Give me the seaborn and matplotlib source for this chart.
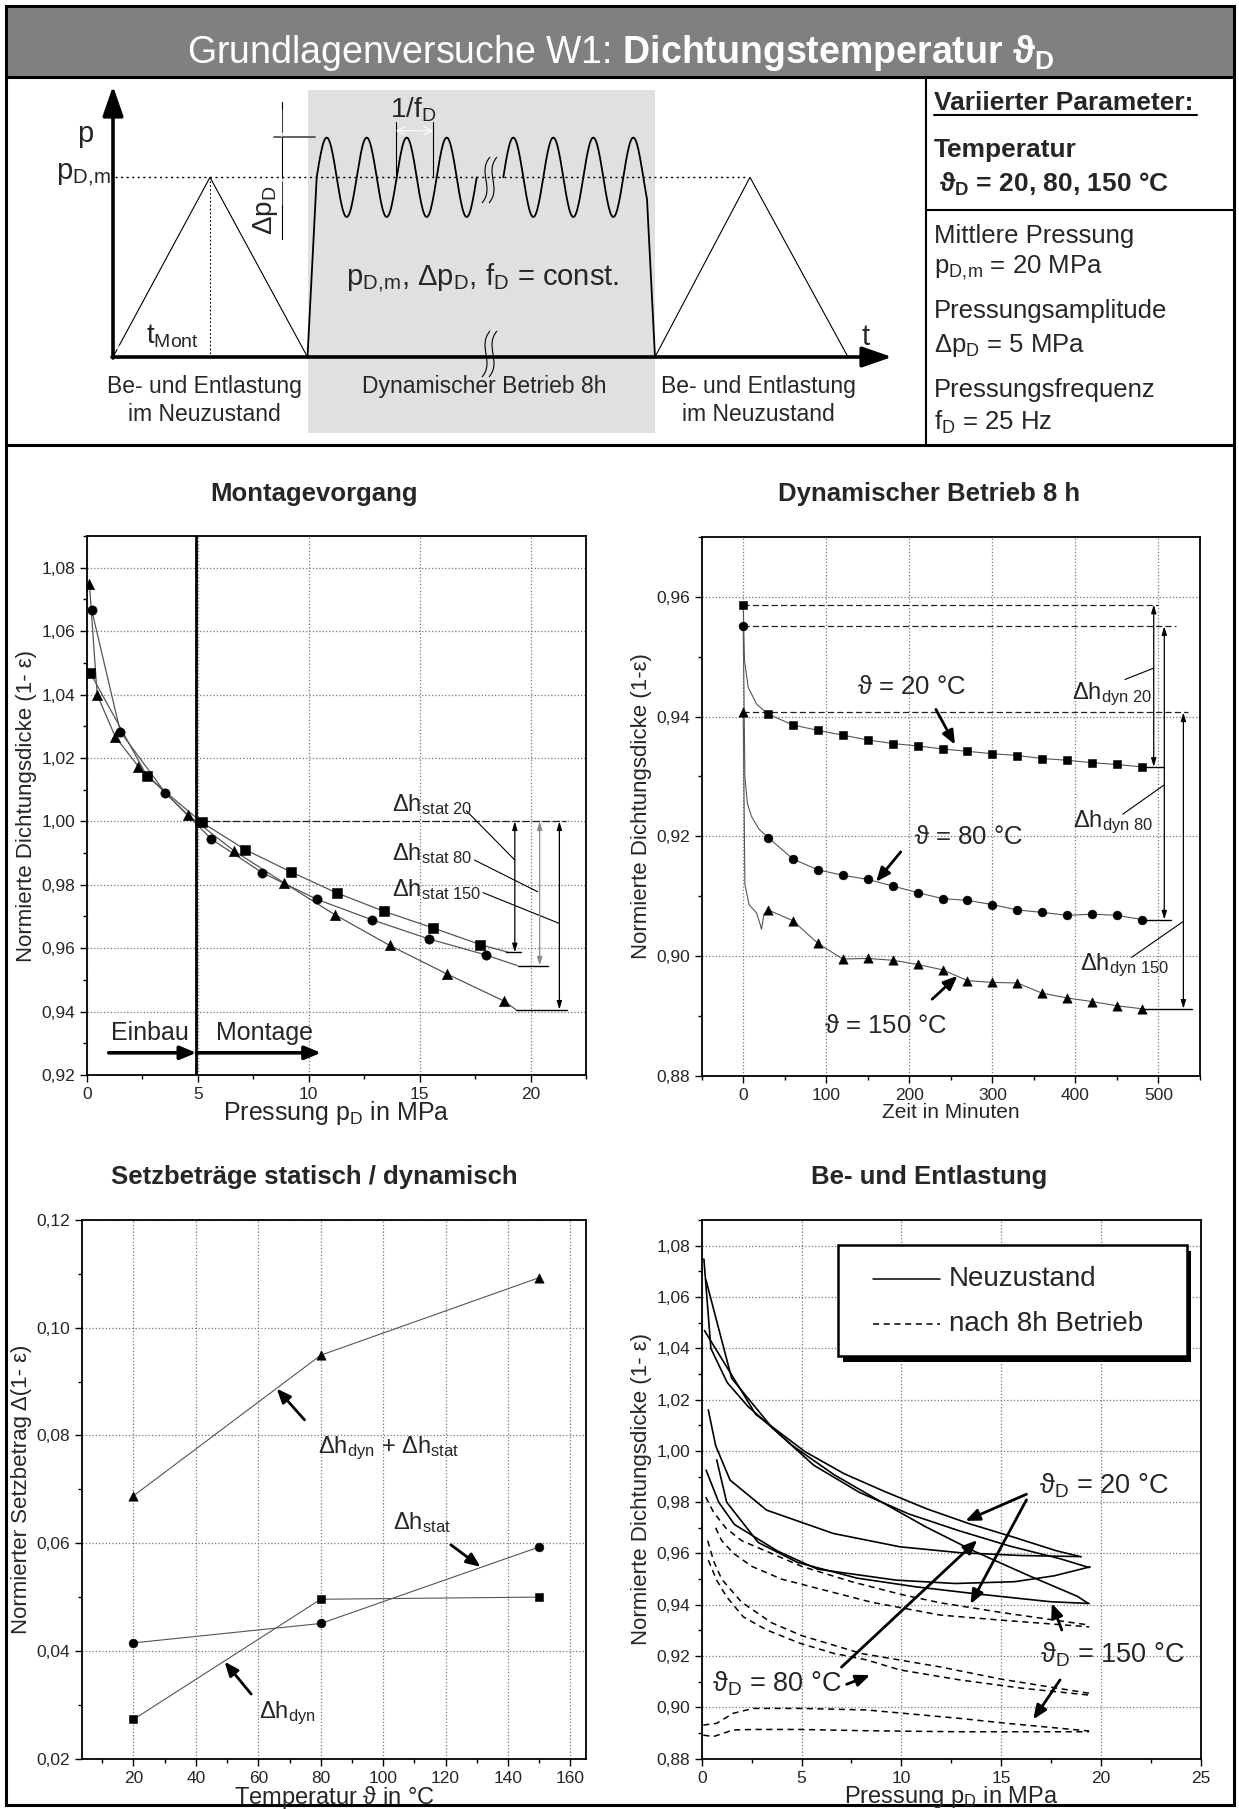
import matplotlib
matplotlib.use("Agg")
import matplotlib.pyplot as plt
import numpy as np
import seaborn as sns
from matplotlib.patches import Rectangle, PathPatch
from matplotlib.path import Path
from matplotlib.ticker import MultipleLocator, FuncFormatter

sns.set_style("white")
plt.rcParams["font.family"] = ["Liberation Sans", "DejaVu Sans"]
plt.rcParams["mathtext.fontset"] = "custom"
plt.rcParams["mathtext.rm"] = "Liberation Sans"
plt.rcParams["mathtext.it"] = "Liberation Sans:italic"
plt.rcParams["mathtext.bf"] = "Liberation Sans:bold"
plt.rcParams["mathtext.default"] = "regular"

# ------------------------------------------------------------------
# Daten
# ------------------------------------------------------------------
# Montagevorgang: Pressung in MPa / normierte Dichtungsdicke
MONT20_P = [0.14, 2.71, 5.17, 7.13, 9.18, 11.27, 13.40, 15.60, 17.74]
MONT20_V = [1.0469, 1.0142, 0.9997, 0.9911, 0.9841, 0.9774, 0.9716, 0.9664, 0.9611]
MONT80_P = [0.21, 1.50, 3.53, 5.61, 7.90, 10.37, 12.87, 15.42, 17.97]
MONT80_V = [1.0667, 1.0283, 1.0090, 0.9944, 0.9838, 0.9754, 0.9689, 0.9629, 0.9579]
MONT150_P = [0.11, 0.46, 1.28, 2.32, 4.55, 6.63, 8.88, 11.19, 13.64, 16.22, 18.81]
MONT150_V = [1.0748, 1.0399, 1.0266, 1.0173, 1.0020, 0.9907, 0.9806, 0.9705, 0.9609, 0.9519, 0.9433]
# Kurvenende (ohne Symbol)
MONT_END_P = [19.00, 19.40, 19.34]
MONT_END_V = [0.9587, 0.9545, 0.9406]

# Dynamischer Betrieb: Zeit in Minuten
DYN_T = [0, 30, 60, 90, 120, 150, 180, 210, 240, 270, 300, 330, 360, 390, 420, 450, 480]
DYN20 = [0.9587, 0.9404, 0.9386, 0.9377, 0.9369, 0.9361, 0.9355, 0.9351, 0.9346,
         0.9342, 0.9338, 0.9335, 0.9330, 0.9327, 0.9323, 0.9320, 0.9316]
DYN80 = [0.9551, 0.9198, 0.9162, 0.9144, 0.9135, 0.9128, 0.9117, 0.9106, 0.9096,
         0.9093, 0.9086, 0.9077, 0.9073, 0.9068, 0.9070, 0.9068, 0.9061]
DYN150 = [0.9407, 0.9077, 0.9059, 0.9021, 0.8995, 0.8996, 0.8993, 0.8986, 0.8977,
          0.8959, 0.8956, 0.8955, 0.8938, 0.8930, 0.8924, 0.8917, 0.8912]
# Anfangsabfall (erste 30 min)
DYN20_START_T = [0, 1.5, 6, 16, 30]
DYN20_START_V = [0.9587, 0.9494, 0.9449, 0.9421, 0.9404]
DYN80_START_T = [0, 2, 5, 10, 19, 30]
DYN80_START_V = [0.9551, 0.9300, 0.9255, 0.9233, 0.9212, 0.9198]
DYN150_START_T = [0, 2, 7, 16, 20, 22, 25, 30]
DYN150_START_V = [0.9407, 0.9120, 0.9086, 0.9072, 0.9055, 0.9045, 0.9070, 0.9077]

# Setzbeträge
TEMP = [20, 80, 150]
SET_SUM = [0.0688, 0.0949, 0.1093]
SET_STAT = [0.0415, 0.0451, 0.0593]
SET_DYN = [0.0273, 0.0496, 0.0500]

# Be- und Entlastung: Entlastung im Neuzustand
UNL20_P = [18.87, 16.0, 12.94, 9.93, 6.59, 3.25, 1.42, 0.70, 0.33]
UNL20_V = [0.9588, 0.9592, 0.9603, 0.9626, 0.9678, 0.9769, 0.9886, 1.0020, 1.0160]
UNL80_P = [19.45, 17.65, 15.67, 12.70, 9.74, 5.79, 3.81, 1.64, 0.85, 0.22]
UNL80_V = [0.9548, 0.9513, 0.9490, 0.9483, 0.9496, 0.9539, 0.9609, 0.9713, 0.9800, 0.9925]
UNL150_P = [19.40, 17.45, 13.70, 10.73, 7.77, 4.80, 2.83, 1.25, 0.75]
UNL150_V = [0.9405, 0.9412, 0.9443, 0.9470, 0.9504, 0.9565, 0.9643, 0.9800, 0.9965]
# nach 8h Betrieb (Be- und Entlastung)
N20A_P = [0.2, 0.6, 1.2, 2.0, 3.5, 5.0, 7.5, 10.0, 11.93, 15.0, 19.4]
N20A_V = [0.982, 0.976, 0.970, 0.965, 0.960, 0.955, 0.949, 0.944, 0.9408, 0.937, 0.9321]
N20B_P = [0.7, 1.0, 1.6, 2.5, 4.0, 6.0, 8.5, 11.93, 15.0, 19.4]
N20B_V = [0.970, 0.965, 0.960, 0.955, 0.950, 0.946, 0.941, 0.936, 0.934, 0.9314]
N80A_P = [0.3, 0.6, 1.0, 2.0, 3.5, 5.0, 8.0, 11.93, 15.0, 19.4]
N80A_V = [0.965, 0.957, 0.950, 0.941, 0.933, 0.928, 0.921, 0.9158, 0.911, 0.9055]
N80B_P = [0.33, 0.75, 1.25, 2.08, 3.25, 4.92, 6.59, 8.26, 9.93, 12.94, 16.0, 19.4]
N80B_V = [0.9574, 0.9496, 0.9431, 0.9353, 0.9302, 0.925, 0.9211, 0.9185, 0.9146, 0.9107, 0.9075, 0.9048]
N150A_P = [0.08, 0.75, 1.58, 2.58, 4.92, 8.26, 12.93, 15.27, 19.4]
N150A_V = [0.8931, 0.8938, 0.8977, 0.8996, 0.8996, 0.8990, 0.8957, 0.8938, 0.8908]
N150B_P = [0.08, 0.58, 1.58, 2.58, 4.92, 8.26, 12.93, 19.4]
N150B_V = [0.8892, 0.8886, 0.8912, 0.8914, 0.8914, 0.8909, 0.8905, 0.8905]

W, H = 1239, 1809
LINE = "#555555"
PDM = r"$p_{D,\!m}$"


def comma(fmt):
    return FuncFormatter(lambda v, _: format(v, fmt).replace(".", ","))


def style_axes(ax, xlim, ylim, xmaj, xmin, ymaj, ymin, xfmt=".0f"):
    ax.set_xlim(*xlim)
    ax.set_ylim(*ylim)
    ax.xaxis.set_major_locator(MultipleLocator(xmaj))
    ax.xaxis.set_minor_locator(MultipleLocator(xmin))
    ax.yaxis.set_major_locator(MultipleLocator(ymaj))
    ax.yaxis.set_minor_locator(MultipleLocator(ymin))
    ax.xaxis.set_major_formatter(comma(xfmt))
    ax.yaxis.set_major_formatter(comma(".2f"))
    ax.tick_params(which="both", direction="out", bottom=True, left=True,
                   top=False, right=False, labelsize=12.5, width=1.0, color="black")
    ax.tick_params(which="major", length=5)
    ax.tick_params(which="minor", length=3)
    for s in ax.spines.values():
        s.set_linewidth(1.3)
        s.set_color("black")
    ax.grid(True, which="major", linestyle=":", color="#777777", linewidth=0.9)
    ax.set_axisbelow(True)


def curve(ax, xs, ys, color=LINE, lw=0.9, ls="-"):
    sns.lineplot(x=xs, y=ys, ax=ax, color=color, lw=lw, linestyle=ls,
                 estimator=None, sort=False, legend=False)


def marks(ax, xs, ys, marker, size):
    sns.scatterplot(x=xs, y=ys, ax=ax, marker=marker, s=size, color="black",
                    edgecolor="black", linewidth=0.4, legend=False, zorder=5)


def arrow(ax, tail, head, lw=2.0, ms=14):
    ax.annotate("", xy=head, xytext=tail,
                arrowprops=dict(arrowstyle="-|>,head_length=0.6,head_width=0.25",
                                lw=lw, color="black", mutation_scale=ms,
                                shrinkA=0, shrinkB=0))


def dim_arrow(ax, x, y0, y1, color="black"):
    ax.annotate("", xy=(x, y1), xytext=(x, y0),
                arrowprops=dict(arrowstyle="<|-|>,head_length=0.5,head_width=0.15",
                                lw=0.9, color=color, mutation_scale=10,
                                shrinkA=0, shrinkB=0))


fig = plt.figure(figsize=(W / 100, H / 100), dpi=100)

# ------------------------------------------------------------------
# Rahmen + Prinzipskizze (Pixelkoordinaten)
# ------------------------------------------------------------------
fr = fig.add_axes([0, 0, 1, 1])
fr.set_xlim(0, W)
fr.set_ylim(H, 0)
fr.axis("off")

fr.add_patch(Rectangle((6, 6), 1228, 71, facecolor="#808080", edgecolor="none"))
fr.add_patch(Rectangle((6, 6), 1228, 1799, fill=False, lw=2.2, edgecolor="black", zorder=10))
fr.plot([6, 1234], [77, 77], color="black", lw=2.2)
fr.plot([6, 1234], [445, 445], color="black", lw=2.2)
fr.plot([925.5, 925.5], [77, 445], color="black", lw=1.5)
fr.plot([925.5, 1234], [210, 210], color="black", lw=1.5)

fr.text(621, 63, r"Grundlagenversuche W1: $\mathbf{Dichtungstemperatur}$ $\mathbf{\vartheta_D}$",
        color="white", fontsize=27, ha="center", va="baseline")

# rechte Spalte
RX = 934
fr.text(RX, 110, "Variierter Parameter:", fontsize=19, fontweight="bold", va="baseline")
fr.plot([RX, RX + 263], [115, 115], color="black", lw=1.5)
fr.text(RX, 157, "Temperatur", fontsize=19, fontweight="bold", va="baseline")
fr.text(RX + 5, 192, r"$\mathbf{\vartheta}_{\mathbf{D}}$ = 20, 80, 150 °C", fontsize=19,
        fontweight="bold", va="baseline")
fr.text(RX, 243, "Mittlere Pressung", fontsize=18.5, va="baseline")
fr.text(RX, 273, PDM + " = 20 MPa", fontsize=18.5, va="baseline")
fr.text(RX, 318, "Pressungsamplitude", fontsize=18.5, va="baseline")
fr.text(RX, 352, r"$\Delta p_D$ = 5 MPa", fontsize=18.5, va="baseline")
fr.text(RX, 397, "Pressungsfrequenz", fontsize=18.5, va="baseline")
fr.text(RX, 430, r"$f_D$ = 25 Hz", fontsize=18.5, va="baseline")

# Skizze
X0, Y0 = 113, 357          # Ursprung
PM = 177.3                 # Niveau p_D,m
AMP = 39.7                 # halbe Schwingweite
PER = 40.0                 # Periode
fr.add_patch(Rectangle((307.5, 90), 347.5, 343, facecolor="#e0e0e0", edgecolor="none", zorder=0))
fr.annotate("", xy=(X0, 86), xytext=(X0, Y0 + 1),
            arrowprops=dict(arrowstyle="-|>,head_length=1.3,head_width=0.45", lw=2.6,
                            color="black", mutation_scale=14, shrinkA=0, shrinkB=0))
fr.annotate("", xy=(892, Y0), xytext=(X0 - 1, Y0),
            arrowprops=dict(arrowstyle="-|>,head_length=1.3,head_width=0.45", lw=2.6,
                            color="black", mutation_scale=14, shrinkA=0, shrinkB=0))
fr.plot([X0, 210, 307.5], [Y0, PM, Y0], color="black", lw=0.8)
fr.plot([655, 750, 848], [Y0, PM, Y0], color="black", lw=0.8)
fr.plot([210, 210], [PM, Y0], color="black", lw=0.8, ls=(0, (1.5, 2)))
fr.plot([115, 748], [PM, PM], color="black", lw=1.0, ls=(0, (1.5, 2.5)))

wx1 = np.linspace(316.7, 476.7, 200)
wx2 = np.linspace(503.3, 647.0, 200)
fr.plot(np.r_[307.5, wx1], np.r_[Y0, PM - AMP * np.sin(2 * np.pi * (wx1 - 316.7) / PER)],
        color="black", lw=1.3)
fr.plot(np.r_[wx2, 655], np.r_[PM - AMP * np.sin(2 * np.pi * (wx2 - 503.3) / PER), Y0],
        color="black", lw=1.3)


def break_mark(cx, cy, h):
    for dx in (0, 7):
        verts = [(cx + dx + 4, cy - h / 2), (cx + dx - 9, cy - h / 6),
                 (cx + dx + 9, cy + h / 6), (cx + dx - 4, cy + h / 2)]
        fr.add_patch(PathPatch(Path(verts, [Path.MOVETO, Path.CURVE4, Path.CURVE4, Path.CURVE4]),
                               fill=False, lw=0.8, edgecolor="black"))


break_mark(486, 180, 46)
break_mark(486, 354, 46)

# Delta p_D
fr.plot([281.7, 281.7], [101.7, 239.3], color="black", lw=0.8)
fr.plot([274, 315], [137.3, 137.3], color="#555555", lw=1.3)
fr.annotate("", xy=(281.7, 137.3), xytext=(281.7, 110),
            arrowprops=dict(arrowstyle="->,head_length=0.5,head_width=0.25", lw=0.8,
                            mutation_scale=12, shrinkA=0, shrinkB=0))
fr.annotate("", xy=(281.7, PM), xytext=(281.7, 205),
            arrowprops=dict(arrowstyle="->,head_length=0.5,head_width=0.25", lw=0.8,
                            mutation_scale=12, shrinkA=0, shrinkB=0))
fr.text(266, 210, r"$\Delta p_D$", fontsize=20, rotation=90, ha="center", va="center")
# 1/f_D
fr.plot([395.7, 395.7], [121.7, PM], color="black", lw=0.8)
fr.plot([433.3, 433.3], [121.7, PM], color="black", lw=0.8)
fr.annotate("", xy=(395.7, 130.7), xytext=(433.3, 130.7),
            arrowprops=dict(arrowstyle="<->,head_length=0.5,head_width=0.25", lw=0.8,
                            mutation_scale=12, shrinkA=0, shrinkB=0))
fr.text(390, 117, r"$1/f_D$", fontsize=20, va="baseline")
# t_Mont
fr.annotate("", xy=(X0 + 2, 348), xytext=(210, 348),
            arrowprops=dict(arrowstyle="<->,head_length=0.5,head_width=0.25", lw=0.8,
                            mutation_scale=12, shrinkA=0, shrinkB=0))
fr.text(146, 343, r"$t_{Mont}$", fontsize=20, va="baseline")
fr.text(85, 142, "p", fontsize=21, ha="center", va="baseline")
fr.text(111, 180, PDM, fontsize=21, ha="right", va="baseline")
fr.text(866, 345, "t", fontsize=21, ha="center", va="baseline")
fr.text(483, 285, PDM + r", $\Delta p_D$, $f_D$ = const.", fontsize=21, ha="center", va="baseline")
for cx in (204, 758):
    fr.text(cx, 393, "Be- und Entlastung", fontsize=16.5, ha="center", va="baseline")
    fr.text(cx, 421, "im Neuzustand", fontsize=16.5, ha="center", va="baseline")
fr.text(484, 393, "Dynamischer Betrieb 8h", fontsize=16.5, ha="center", va="baseline")

# Diagrammtitel
for (cx, cy, txt) in [(314, 494, "Montagevorgang"), (929, 494, "Dynamischer Betrieb 8 h"),
                      (314, 1177, "Setzbeträge statisch / dynamisch"),
                      (929, 1177, "Be- und Entlastung")]:
    fr.text(cx, cy, txt, fontsize=18.5, fontweight="bold", ha="center", va="center")

# ------------------------------------------------------------------
# Montagevorgang
# ------------------------------------------------------------------
ax1 = fig.add_axes([87 / W, 1 - 1075 / H, 499 / W, 539 / H])
style_axes(ax1, (0, 22.5), (0.92, 1.09), 5, 2.5, 0.02, 0.01)
for P, V, pe, ve, m, s in [(MONT20_P, MONT20_V, MONT_END_P[0], MONT_END_V[0], "s", 45),
                           (MONT80_P, MONT80_V, MONT_END_P[1], MONT_END_V[1], "o", 45),
                           (MONT150_P, MONT150_V, MONT_END_P[2], MONT_END_V[2], "^", 55)]:
    curve(ax1, P + [pe], V + [ve])
    marks(ax1, P, V, m, s)
ax1.axvline(4.93, color="black", lw=2.0)
ax1.plot([5.17, 21.6], [1.0, 1.0], color="#222222", lw=0.9, ls=(0, (6, 2)))
for x, lo, col in zip([19.29, 20.41, 21.30], MONT_END_V, ["black", "#888888", "black"]):
    dim_arrow(ax1, x, 1.0, lo, col)
for (xa, xb), lv in zip([(18.9, 19.57), (19.43, 20.77), (19.34, 21.66)], MONT_END_V):
    ax1.plot([xa, xb], [lv, lv], color="black", lw=1.0)
for y, lab, lead in [(1.0033, r"$\Delta h_{stat\ 20}$", [(17.11, 1.0033), (19.29, 0.9878)]),
                     (0.9878, r"$\Delta h_{stat\ 80}$", [(17.47, 0.9878), (20.32, 0.9778)]),
                     (0.9765, r"$\Delta h_{stat\ 150}$", [(17.86, 0.9775), (21.30, 0.9678)])]:
    ax1.text(13.73, y, lab, fontsize=17, va="baseline")
    ax1.plot([lead[0][0], lead[1][0]], [lead[0][1], lead[1][1]], color="black", lw=0.8)
ax1.text(2.85, 0.9333, "Einbau", fontsize=18, ha="center", va="center")
ax1.text(7.99, 0.9333, "Montage", fontsize=18, ha="center", va="center")
arrow(ax1, (0.98, 0.927), (4.93, 0.927), lw=2.6, ms=16)
arrow(ax1, (4.93, 0.927), (10.55, 0.927), lw=2.6, ms=16)
ax1.set_xlabel(r"Pressung $p_D$ in MPa", fontsize=18, labelpad=-2)
ax1.set_ylabel("Normierte Dichtungsdicke (1- ε)", fontsize=16, labelpad=3)

# ------------------------------------------------------------------
# Dynamischer Betrieb
# ------------------------------------------------------------------
ax2 = fig.add_axes([701.7 / W, 1 - 1075.8 / H, 498.3 / W, 538.8 / H])
style_axes(ax2, (-50, 550), (0.88, 0.97), 100, 50, 0.02, 0.01)
for ts, vs in [(DYN20_START_T, DYN20_START_V), (DYN80_START_T, DYN80_START_V),
               (DYN150_START_T, DYN150_START_V)]:
    curve(ax2, ts, vs, lw=0.8)
for vs, m, s in [(DYN20, "s", 40), (DYN80, "o", 40), (DYN150, "^", 45)]:
    curve(ax2, DYN_T[1:], vs[1:], lw=0.8)
    marks(ax2, DYN_T, vs, m, s)
for x1, lv in zip([500, 521, 535.5], [DYN20[0], DYN80[0], DYN150[0]]):
    ax2.plot([0, x1], [lv, lv], color="#222222", lw=0.9, ls=(0, (5, 2.5)))
for x, hi, lo in zip([494.3, 507, 530], [DYN20[0], DYN80[0], DYN150[0]],
                     [DYN20[-1], DYN80[-1], DYN150[-1]]):
    dim_arrow(ax2, x, hi, lo)
for (xa, xb), lv in zip([(481, 507), (481, 515.6), (478, 540)], [DYN20[-1], DYN80[-1], DYN150[-1]]):
    ax2.plot([xa, xb], [lv, lv], color="black", lw=1.0)
for x, y, lab, lead in [(396, 0.9430, r"$\Delta h_{dyn\ 20}$", [(459.7, 0.9462), (494.3, 0.9481)]),
                        (397, 0.9216, r"$\Delta h_{dyn\ 80}$", [(457, 0.9237), (507, 0.9286)]),
                        (406, 0.8977, r"$\Delta h_{dyn\ 150}$", [(467.8, 0.8998), (530, 0.9058)])]:
    ax2.text(x, y, lab, fontsize=17, va="baseline")
    ax2.plot([lead[0][0], lead[1][0]], [lead[0][1], lead[1][1]], color="black", lw=0.8)
ax2.text(137, 0.9437, r"$\vartheta$ = 20 °C", fontsize=18.5, va="baseline")
ax2.text(206, 0.9188, r"$\vartheta$ = 80 °C", fontsize=18.5, va="baseline")
ax2.text(97, 0.8872, r"$\vartheta$ = 150 °C", fontsize=18.5, va="baseline")
arrow(ax2, (232, 0.9412), (255, 0.9353))
arrow(ax2, (189.6, 0.9174), (160, 0.9124))
arrow(ax2, (227.5, 0.8928), (258, 0.8967))
ax2.set_xlabel("Zeit in Minuten", fontsize=15, labelpad=0)
ax2.set_ylabel("Normierte Dichtungsdicke (1-ε)", fontsize=16, labelpad=3)

# ------------------------------------------------------------------
# Setzbeträge
# ------------------------------------------------------------------
ax3 = fig.add_axes([82 / W, 1 - 1758.7 / H, 504 / W, 538.7 / H])
style_axes(ax3, (3.5, 165), (0.02, 0.12), 20, 10, 0.02, 0.01)
for vs, m, s in [(SET_SUM, "^", 45), (SET_STAT, "o", 40), (SET_DYN, "s", 40)]:
    curve(ax3, TEMP, vs, lw=0.8)
    marks(ax3, TEMP, vs, m, s)
ax3.text(79.2, 0.0768, r"$\Delta h_{dyn}$ + $\Delta h_{stat}$", fontsize=17, va="baseline")
ax3.text(103.3, 0.0626, r"$\Delta h_{stat}$", fontsize=17, va="baseline")
ax3.text(60.2, 0.0275, r"$\Delta h_{dyn}$", fontsize=17, va="baseline")
arrow(ax3, (74.8, 0.0829), (65.9, 0.0887))
arrow(ax3, (121.7, 0.0597), (131.2, 0.0556))
arrow(ax3, (57.7, 0.0320), (49.2, 0.0380))
ax3.set_xlabel(r"Temperatur $\vartheta$ in °C", fontsize=17, labelpad=-1)
ax3.set_ylabel("Normierter Setzbetrag Δ(1- ε)", fontsize=16, labelpad=3)

# ------------------------------------------------------------------
# Be- und Entlastung
# ------------------------------------------------------------------
ax4 = fig.add_axes([701.7 / W, 1 - 1758.7 / H, 499.3 / W, 538.7 / H])
style_axes(ax4, (0, 25), (0.88, 1.09), 5, 2.5, 0.02, 0.01)
for P, V, pe, ve in [(MONT20_P, MONT20_V, MONT_END_P[0], MONT_END_V[0]),
                     (MONT80_P, MONT80_V, MONT_END_P[1], MONT_END_V[1]),
                     (MONT150_P, MONT150_V, MONT_END_P[2], MONT_END_V[2])]:
    curve(ax4, P + [pe], V + [ve], color="black", lw=1.2)
for P, V in [(UNL20_P, UNL20_V), (UNL80_P, UNL80_V), (UNL150_P, UNL150_V)]:
    curve(ax4, P, V, color="black", lw=1.2)
for P, V in [(N20A_P, N20A_V), (N20B_P, N20B_V), (N80A_P, N80A_V), (N80B_P, N80B_V),
             (N150A_P, N150A_V), (N150B_P, N150B_V)]:
    curve(ax4, P, V, color="black", lw=1.1, ls=(0, (4, 3)))
# Legende mit Schatten
ax4.add_patch(Rectangle((7.05, 1.0348), 17.46, 0.0433, facecolor="black", edgecolor="none", zorder=6))
ax4.add_patch(Rectangle((6.84, 1.0370), 17.46, 0.0433, facecolor="white", edgecolor="black",
                        lw=1.8, zorder=7))
ax4.plot([8.56, 11.93], [1.067, 1.067], color="black", lw=1.1, zorder=8)
ax4.plot([8.56, 11.93], [1.0495, 1.0495], color="black", lw=1.1, ls=(0, (4, 3)), zorder=8)
ax4.text(12.37, 1.0670, "Neuzustand", fontsize=20, va="center", zorder=8)
ax4.text(12.37, 1.0495, "nach 8h Betrieb", fontsize=20, va="center", zorder=8)
ax4.text(16.9, 0.9834, r"$\vartheta_D$ = 20 °C", fontsize=19.5, va="baseline")
ax4.text(0.5, 0.9061, r"$\vartheta_D$ = 80 °C", fontsize=19.5, va="baseline")
ax4.text(16.94, 0.9176, r"$\vartheta_D$ = 150 °C", fontsize=19.5, va="baseline")
arrow(ax4, (16.26, 0.9831), (13.2, 0.9727))
arrow(ax4, (16.26, 0.9809), (13.46, 0.9403))
arrow(ax4, (7.0, 0.9157), (13.8, 0.9652))
arrow(ax4, (7.26, 0.9090), (8.43, 0.9126))
arrow(ax4, (18.03, 0.9302), (17.53, 0.9406))
arrow(ax4, (17.94, 0.9107), (16.6, 0.8953))
ax4.set_xlabel(r"Pressung $p_D$ in MPa", fontsize=17, labelpad=-1)
ax4.set_ylabel("Normierte Dichtungsdicke (1- ε)", fontsize=16, labelpad=3)

fig.savefig("out.png", dpi=100)
